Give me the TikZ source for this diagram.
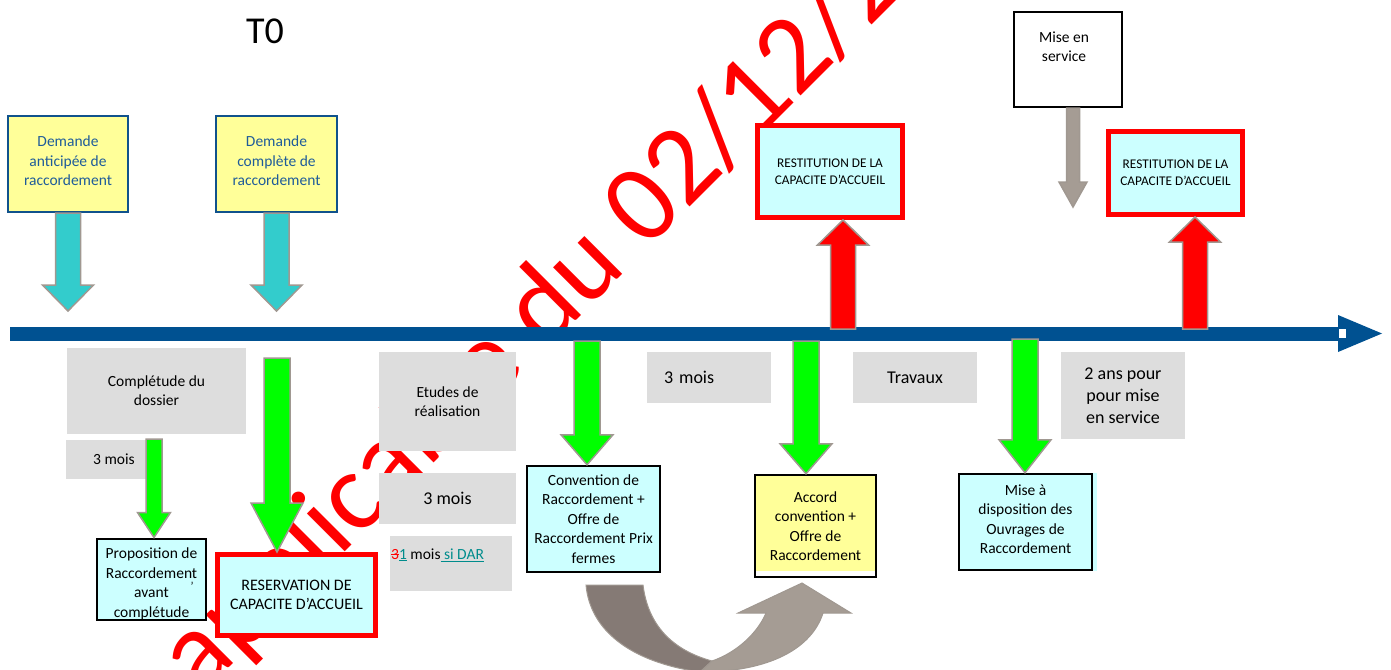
\documentclass[tikz,border=0pt]{standalone}
\usepackage{fontspec}
\setmainfont{Carlito}
\usetikzlibrary{calc}

\definecolor{timeblue}{RGB}{0,81,145}
\definecolor{demandefill}{RGB}{255,255,153}
\definecolor{demandeline}{RGB}{16,82,140}
\definecolor{demandetext}{RGB}{31,92,153}
\definecolor{boxcyan}{RGB}{204,255,255}
\definecolor{boxgray}{RGB}{221,221,221}
\definecolor{arrowcyan}{RGB}{51,204,204}
\definecolor{arrowgreen}{RGB}{0,255,0}
\definecolor{arrowred}{RGB}{255,0,0}
\definecolor{arrowedge}{RGB}{160,152,145}
\definecolor{arrowtaupe}{RGB}{165,156,148}
\definecolor{arrowdark}{RGB}{133,122,117}
\definecolor{linkteal}{RGB}{0,140,140}

\newcommand\fsz[2]{\fontsize{#1}{#2}\selectfont}
\newcommand\barre[1]{\setbox0\hbox{#1}\rlap{\raisebox{0.3em}{\rule{\wd0}{0.9pt}}}\box0}
\newcommand\hautdeb[1]{\rule{0pt}{#1}}
\newcommand\basfin[1]{\rule[-#1]{0pt}{0pt}}
% block arrow: [style]{from}{to}{half shaft}{half head}{head length}
\newcommand\blockarrow[6][]{%
\draw[blockarrow,#1] let \p1=(#2), \p2=(#3), \n1={sign(\y2-\y1)} in
 ({\x1-#4},\y1) -- ({\x1-#4},{\y2-(\n1)*#6}) -- ({\x1-#5},{\y2-(\n1)*#6}) -- (\x1,\y2)
 -- ({\x1+#5},{\y2-(\n1)*#6}) -- ({\x1+#4},{\y2-(\n1)*#6}) -- ({\x1+#4},\y1) -- cycle;
}

\tikzset{
  demande/.style={draw=demandeline, line width=2pt, fill=demandefill, text=demandetext, align=center, inner sep=0pt, font={\fsz{15.5}{19.5}}},
  etape/.style={draw, line width=2pt, fill=boxcyan, align=center, inner sep=0pt, font={\fsz{15.5}{19.5}}},
  capacite/.style={draw=arrowred, line width=5pt, fill=boxcyan, align=center, inner sep=0pt},
  delai/.style={fill=boxgray, align=center, inner sep=0pt, font={\fsz{15.5}{19}}},
  blockarrow/.style={draw=arrowedge, line width=1.5pt, line join=miter},
  filigrane/.style={text=arrowred, inner sep=0pt, font={\fsz{112}{112}}},
}

\begin{document}
\begin{tikzpicture}[x=1pt,y=-1pt]
\useasboundingbox (0,0) rectangle (1391,669);

% watermark
\node[filigrane, anchor=base west, rotate=45] (filig) at (200,697) {applicable du 02/12/2};

% time line
\fill[timeblue] (10,327) rectangle (1339,341);
\fill[timeblue] (1338,315) -- (1382,333.5) -- (1338,352) -- cycle;
\fill[white] (1339,329) rectangle (1346,338);
\coordinate (cyanstop) at (0,311);

\node[font={\fsz{38}{38}}] (tzero) at (265,31) {T0};

% requests
\node[demande, minimum width=120pt, minimum height=96pt] (demA) at (68,164) {Demande\\anticipée de\\raccordement\basfin{6pt}};
\node[demande, minimum width=121pt, minimum height=96pt] (demB) at (276.5,164) {Demande\\complète de\\raccordement\basfin{6pt}};

% delays
\node[delai, minimum width=179pt, minimum height=86pt] (compl) at (156.5,391) {Complétude du\\dossier};
\node[delai, minimum width=96pt, minimum height=39pt] (moisA) at (114,459.5) {3 mois};
\node[delai, minimum width=137pt, minimum height=99pt] (etudes) at (447.5,401.5) {Etudes de\\réalisation};
\node[delai, font={\fsz{18}{22}}, minimum width=137pt, minimum height=51pt] (moisB) at (447.5,498.5) {3 mois};
\node[delai, minimum width=122pt, minimum height=55pt] (dar) at (451,563.5) {};
\node[anchor=west, inner sep=0pt, font={\fsz{15.5}{18}}] (dartxt) at (391,555) {{\color{arrowred}\barre{3}}{\color{linkteal}\underline{1}} mois{\color{linkteal}\underline{\ si DAR}}};
\node[delai, font={\fsz{18}{22}}, text width=90pt, inner xsep=17pt, align=left, minimum height=51pt] (moisC) at (709,377.5) {3 mois};
\node[delai, font={\fsz{18}{22}}, minimum width=124pt, minimum height=51pt] (travaux) at (915,377.5) {Travaux};
\node[delai, font={\fsz{18}{22}}, minimum width=124pt, minimum height=87pt] (deuxans) at (1123,395.5) {2 ans pour\\pour mise\\en service};

% steps
\node[etape, minimum width=109pt, minimum height=78pt] (prop) at (151.5,579) {\hautdeb{20pt}Proposition de\\Raccordement\\avant\\complétude};
\node[inner sep=0pt, font={\fsz{12}{12}}] (apos) at (192,586) {’};
\node[capacite, font={\fsz{16}{19}}, minimum width=158pt, minimum height=81pt] (resa) at (296.5,595) {RESERVATION DE\\CAPACITE D'ACCUEIL};
\node[etape, line width=2.5pt, minimum width=133pt, minimum height=106pt] (conv) at (593.5,519) {Convention de\\Raccordement +\\Offre de\\Raccordement Prix\\fermes};
\node[etape, line width=2.5pt, fill=demandefill, minimum width=121pt, minimum height=102pt,
  path picture={\fill[white] ($(path picture bounding box.south west)+(0,-6)$) rectangle (path picture bounding box.south east);}]
  (accord) at (815.5,526) {Accord\\convention +\\Offre de\\Raccordement};
\node[etape, line width=2.5pt, minimum width=133pt, minimum height=96pt] (mdispo) at (1025.5,522) {Mise à\\disposition des\\Ouvrages de\\Raccordement\basfin{6pt}};
\fill[boxcyan] (mdispo.north east) rectangle ([xshift=4pt]mdispo.south east);

% top right
\node[draw, line width=2pt, fill=white, minimum width=108pt, minimum height=95pt] (msvc) at (1068,59.5) {};
\node[align=center, inner sep=0pt, font={\fsz{15.5}{19}}] (msvctxt) at (1064,46.5) {Mise en\\service};
\node[capacite, font={\fsz{13.3}{17}}, minimum width=145pt, minimum height=92pt] (restA) at (830,171.5) {RESTITUTION DE LA\\CAPACITE D'ACCUEIL};
\node[capacite, font={\fsz{13.3}{17}}, minimum width=134pt, minimum height=83pt] (restB) at (1175.5,173) {RESTITUTION DE LA\\CAPACITE D'ACCUEIL};

% arrows
\coordinate (gProp) at (154,439);
\coordinate (gResa) at (277,358);
\coordinate (gConv) at (587,341);
\coordinate (gAcc) at (806,341);
\coordinate (gDisp) at (1025,339);
\coordinate (rA) at (843,329);
\coordinate (rB) at (1195,329);
\coordinate (svcstop) at (1073,207);

\blockarrow[fill=arrowcyan]{demA.south}{demA.south |- cyanstop}{12.5pt}{25.5pt}{26pt}
\blockarrow[fill=arrowcyan]{demB.south}{demB.south |- cyanstop}{12.5pt}{25.5pt}{26pt}
\blockarrow[fill=arrowgreen]{gProp}{gProp |- prop.north}{8pt}{16.5pt}{25pt}
\blockarrow[fill=arrowgreen]{gResa}{gResa |- resa.north}{13pt}{26pt}{49pt}
\blockarrow[fill=arrowgreen]{gConv}{gConv |- conv.north}{13pt}{26pt}{30pt}
\blockarrow[fill=arrowgreen]{gAcc}{gAcc |- accord.north}{13pt}{26pt}{30pt}
\blockarrow[fill=arrowgreen]{gDisp}{gDisp |- mdispo.north}{13pt}{26pt}{33pt}
\blockarrow[fill=arrowred]{rA}{rA |- restA.south}{12.5pt}{25.5pt}{25pt}
\blockarrow[fill=arrowred]{rB}{rB |- restB.south}{12.5pt}{25.5pt}{25pt}
\blockarrow[fill=arrowtaupe]{$(msvc.south)+(5,0)$}{svcstop}{6.5pt}{14pt}{25pt}

% U-turn
\draw[arrowedge, fill=arrowdark, line width=1pt] (586,585) -- (643,585) .. controls (648,625) and (672,650) .. (712,661)
  -- (700,672) .. controls (630,662) and (590,630) .. (586,585) -- cycle;
\draw[arrowedge, fill=arrowtaupe, line width=1pt] (712,661) .. controls (738,652) and (758,632) .. (766,613) -- (738,613)
  -- (802,583) -- (851,613) -- (823,613) .. controls (812,648) and (770,672) .. (700,672) -- cycle;
\end{tikzpicture}
\end{document}
